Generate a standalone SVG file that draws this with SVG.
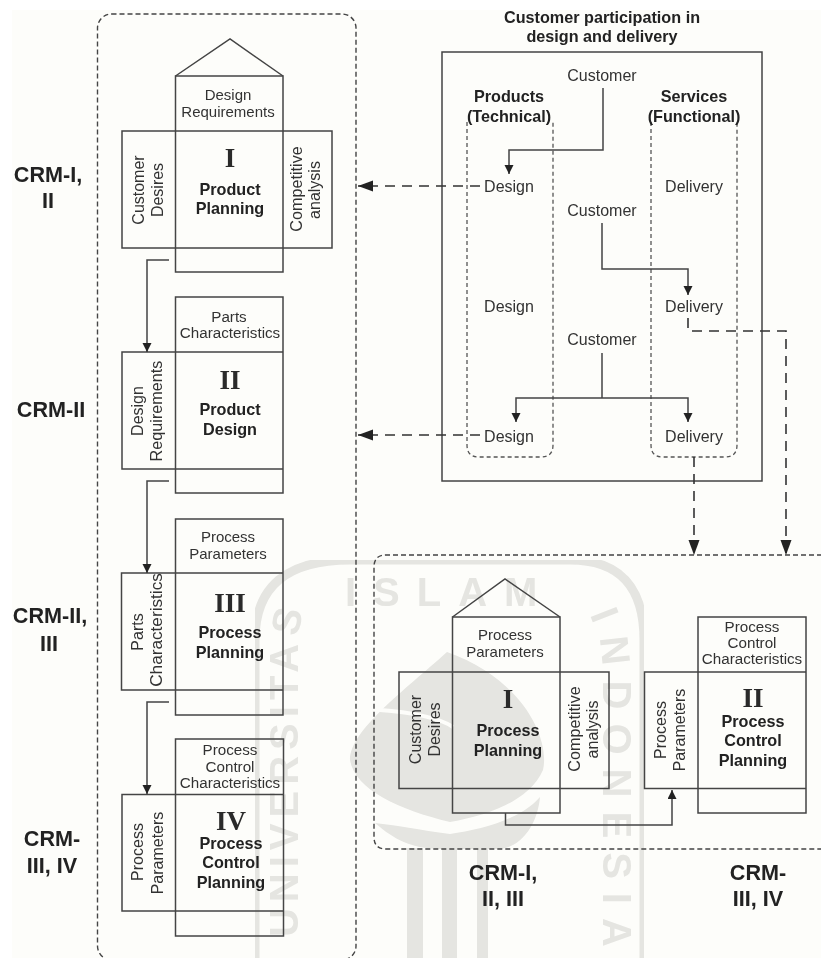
<svg xmlns="http://www.w3.org/2000/svg" width="821" height="958" viewBox="0 0 821 958">
<style>
text{font-family:"Liberation Sans",Arial,sans-serif;fill:#333;text-anchor:middle}
.l{font-size:15px}.s{font-size:15.2px}.m{font-size:16px}.v{font-size:16.2px}.c{font-size:17.2px}
.b{font-size:16.2px;font-weight:bold;fill:#222}
.r{font-family:"Liberation Serif",serif;font-size:27px;font-weight:bold;fill:#2a2a2a}
.h{font-size:21.6px;font-weight:bold;fill:#222}
.box{fill:none;stroke:#444;stroke-width:1.5}
.pan{fill:none;stroke:#444;stroke-width:1.4;stroke-dasharray:5 3}
.col{fill:none;stroke:#555;stroke-width:1.3;stroke-dasharray:4 3}
.con{fill:none;stroke:#444;stroke-width:1.5}
.das{fill:none;stroke:#333;stroke-width:1.6;stroke-dasharray:10 7}
.wm{font-size:40px;font-weight:bold;fill:#e5e5e1;letter-spacing:14px}
.wf{fill:#e5e5e1}
</style>
<defs>
<filter id="soft" x="0" y="0" width="100%" height="100%"><feGaussianBlur stdDeviation="0.35"/></filter>
<marker id="a" markerUnits="userSpaceOnUse" markerWidth="11" markerHeight="11" refX="9" refY="4.500" orient="auto"><path d="M0 0L9 4.500L0 9Z" fill="#222"/></marker>
<marker id="b" markerUnits="userSpaceOnUse" markerWidth="16" markerHeight="13" refX="15" refY="5.500" orient="auto"><path d="M0 0L15 5.500L0 11Z" fill="#222"/></marker>
<path id="wml" d="M298 1000V650Q298 625 306 606"/>
<path id="wmr" d="M572 590Q603 625 603 675V1010"/>
</defs>
<rect width="821" height="958" fill="#fff"/>
<rect x="12" y="10" width="809" height="948" fill="#fdfdfa"/>
<g id="watermark" filter="url(#soft)">
<path d="M255 958V640Q255 560 350 560H570Q644 560 644 640V958" fill="none" stroke="#e5e5e1" stroke-width="9"/>
<text class="wm" style="text-anchor:end;letter-spacing:6px"><textPath href="#wml" startOffset="100%">UNIVERSITAS</textPath></text>
<text class="wm" style="text-anchor:start;letter-spacing:17px" x="345" y="606">ISLAM</text>
<text class="wm" style="text-anchor:start"><textPath href="#wmr" startOffset="30">INDONESIA</textPath></text>
<path class="wf" d="M447 652C405 690 350 730 350 760C355 790 400 810 450 822C490 815 530 800 543 770C550 740 525 680 447 652Z"/>
<path class="wf" d="M375 823C395 840 410 848 440 849H500C525 846 538 820 540 797C520 820 480 830 450 834C420 830 395 825 375 823Z"/>
<path d="M380 710C410 712 440 718 453 727" fill="none" stroke="#fdfdfa" stroke-width="4"/>
<rect class="wf" x="407" y="848" width="16" height="110"/>
<rect class="wf" x="442" y="848" width="15" height="110"/>
<rect class="wf" x="477" y="848" width="11" height="110"/>
</g>
<g filter="url(#soft)">
<rect id="panel-left" class="pan" x="97.500" y="14" width="258.500" height="946" rx="14"/>
<path id="panel-right" class="pan" d="M830 555H386Q374 555 374 567V837Q374 849 386 849H830"/>
<g id="participation-box">
<rect class="box" x="442" y="52" width="320" height="429"/>
<text class="b" x="602" y="23">Customer participation in</text>
<text class="b" x="602" y="42">design and delivery</text>
</g>
<g id="products-column">
<path class="col" d="M467 122V445Q467 457 479 457H541Q553 457 553 445V122"/>
<text class="b" x="509" y="102">Products</text>
<text class="b" x="509" y="122">(Technical)</text>
</g>
<g id="services-column">
<path class="col" d="M651 122V445Q651 457 663 457H725Q737 457 737 445V122"/>
<text class="b" x="694" y="102">Services</text>
<text class="b" x="694" y="122">(Functional)</text>
</g>
<g id="customer-1"><text class="m" x="602" y="81">Customer</text></g>
<g id="customer-2"><text class="m" x="602" y="216">Customer</text></g>
<g id="customer-3"><text class="m" x="602" y="345">Customer</text></g>
<g id="design-1"><text class="m" x="509" y="192">Design</text></g>
<g id="design-2"><text class="m" x="509" y="312">Design</text></g>
<g id="design-3"><text class="m" x="509" y="442">Design</text></g>
<g id="delivery-1"><text class="m" x="694" y="192">Delivery</text></g>
<g id="delivery-2"><text class="m" x="694" y="312">Delivery</text></g>
<g id="delivery-3"><text class="m" x="694" y="442">Delivery</text></g>

<g id="hoq-product-planning">
<path class="box" d="M175.500 76L230 39L283 76"/>
<rect class="box" x="175.500" y="76" width="107.500" height="196"/>
<rect class="box" x="122" y="131" width="210" height="117"/>
<text class="l" x="228" y="100">Design</text>
<text class="l" x="228" y="117">Requirements</text>
<text class="r" x="230" y="167">I</text>
<text class="b" x="230" y="195">Product</text>
<text class="b" x="230" y="214">Planning</text>
<text class="m" transform="translate(144 190) rotate(-90)">Customer</text>
<text class="m" transform="translate(163 190) rotate(-90)">Desires</text>
<text class="v" transform="translate(302 189) rotate(-90)">Competitive</text>
<text class="m" transform="translate(320 190) rotate(-90)">analysis</text>
</g>
<g id="hoq-product-design">
<rect class="box" x="175.500" y="297" width="107.500" height="196"/>
<path class="box" d="M175.500 352H122V469H283M175.500 352H283"/>
<text class="s" x="229" y="322">Parts</text>
<text class="s" x="230" y="338">Characteristics</text>
<text class="r" x="230" y="389">II</text>
<text class="b" x="230" y="415">Product</text>
<text class="b" x="230" y="435">Design</text>
<text class="m" transform="translate(143 411) rotate(-90)">Design</text>
<text class="v" transform="translate(162 411) rotate(-90)">Requirements</text>
</g>
<g id="hoq-process-planning">
<rect class="box" x="175.500" y="519" width="107.500" height="196"/>
<path class="box" d="M175.500 573H121.500V690H283M175.500 573H283"/>
<text class="l" x="228" y="542">Process</text>
<text class="l" x="228" y="559">Parameters</text>
<text class="r" x="230" y="612">III</text>
<text class="b" x="230" y="638">Process</text>
<text class="b" x="230" y="658">Planning</text>
<text class="m" transform="translate(143 632) rotate(-90)">Parts</text>
<text class="c" transform="translate(162 630) rotate(-90)">Characteristics</text>
</g>
<g id="hoq-process-control">
<rect class="box" x="175.500" y="739" width="108" height="197"/>
<path class="box" d="M175.500 794.500H122V911H283.500M175.500 794.500H283.500"/>
<text class="s" x="230" y="755">Process</text>
<text class="s" x="230" y="772">Control</text>
<text class="s" x="230" y="788">Characteristics</text>
<text class="r" x="231" y="830">IV</text>
<text class="b" x="231" y="849">Process</text>
<text class="b" x="231" y="868">Control</text>
<text class="b" x="231" y="888">Planning</text>
<text class="m" transform="translate(143 852) rotate(-90)">Process</text>
<text class="m" transform="translate(163 853) rotate(-90)">Parameters</text>
</g>
<g id="hoq2-process-planning">
<path class="box" d="M452.500 617L505 579L560 617"/>
<rect class="box" x="452.500" y="617" width="107.500" height="196"/>
<rect class="box" x="399" y="672" width="210" height="116.500"/>
<text class="l" x="505" y="640">Process</text>
<text class="l" x="505" y="657">Parameters</text>
<text class="r" x="508" y="708">I</text>
<text class="b" x="508" y="736">Process</text>
<text class="b" x="508" y="756">Planning</text>
<text class="m" transform="translate(421 729.500) rotate(-90)">Customer</text>
<text class="m" transform="translate(440 729.500) rotate(-90)">Desires</text>
<text class="v" transform="translate(580 729) rotate(-90)">Competitive</text>
<text class="m" transform="translate(598 729.500) rotate(-90)">analysis</text>
</g>
<g id="hoq2-process-control">
<rect class="box" x="698" y="617" width="108" height="196"/>
<path class="box" d="M698 672H644.500V788.500H806M698 672H806"/>
<text class="s" x="752" y="632">Process</text>
<text class="s" x="752" y="648">Control</text>
<text class="s" x="752" y="664">Characteristics</text>
<text class="r" x="753" y="707">II</text>
<text class="b" x="753" y="727">Process</text>
<text class="b" x="753" y="746">Control</text>
<text class="b" x="753" y="766">Planning</text>
<text class="m" transform="translate(666 730) rotate(-90)">Process</text>
<text class="m" transform="translate(685 730) rotate(-90)">Parameters</text>
</g>
<g id="label-crm-1"><text class="h" x="48" y="182">CRM-I,</text><text class="h" x="48" y="208">II</text></g>
<g id="label-crm-2"><text class="h" x="51" y="417">CRM-II</text></g>
<g id="label-crm-3"><text class="h" x="50" y="623">CRM-II,</text><text class="h" x="49" y="651">III</text></g>
<g id="label-crm-4"><text class="h" x="52" y="846">CRM-</text><text class="h" x="52" y="873">III, IV</text></g>
<g id="label-crm-5"><text class="h" x="503" y="880">CRM-I,</text><text class="h" x="503" y="906">II, III</text></g>
<g id="label-crm-6"><text class="h" x="758" y="880">CRM-</text><text class="h" x="758" y="906">III, IV</text></g>

<g id="connectors">
<path class="con" marker-end="url(#a)" d="M169 260H147V352"/>
<path class="con" marker-end="url(#a)" d="M169 481H147V573"/>
<path class="con" marker-end="url(#a)" d="M169 702H147V794"/>
<path class="con" marker-end="url(#a)" d="M505.500 813V825H672V790"/>
<path class="con" marker-end="url(#a)" d="M603 88V150H509V174"/>
<path class="con" marker-end="url(#a)" d="M602 223V269H688V295"/>
<path class="con" d="M602 353V398"/>
<path class="con" marker-end="url(#a)" d="M602 398H516V422"/>
<path class="con" marker-end="url(#a)" d="M602 398H688V422"/>
<path class="das" marker-end="url(#b)" d="M480 186H358"/>
<path class="das" marker-end="url(#b)" d="M480 435H358"/>
<path class="das" marker-end="url(#b)" d="M688 318V331H786V555"/>
<path class="das" marker-end="url(#b)" d="M694 457V555"/>
</g>
</g>
</svg>
